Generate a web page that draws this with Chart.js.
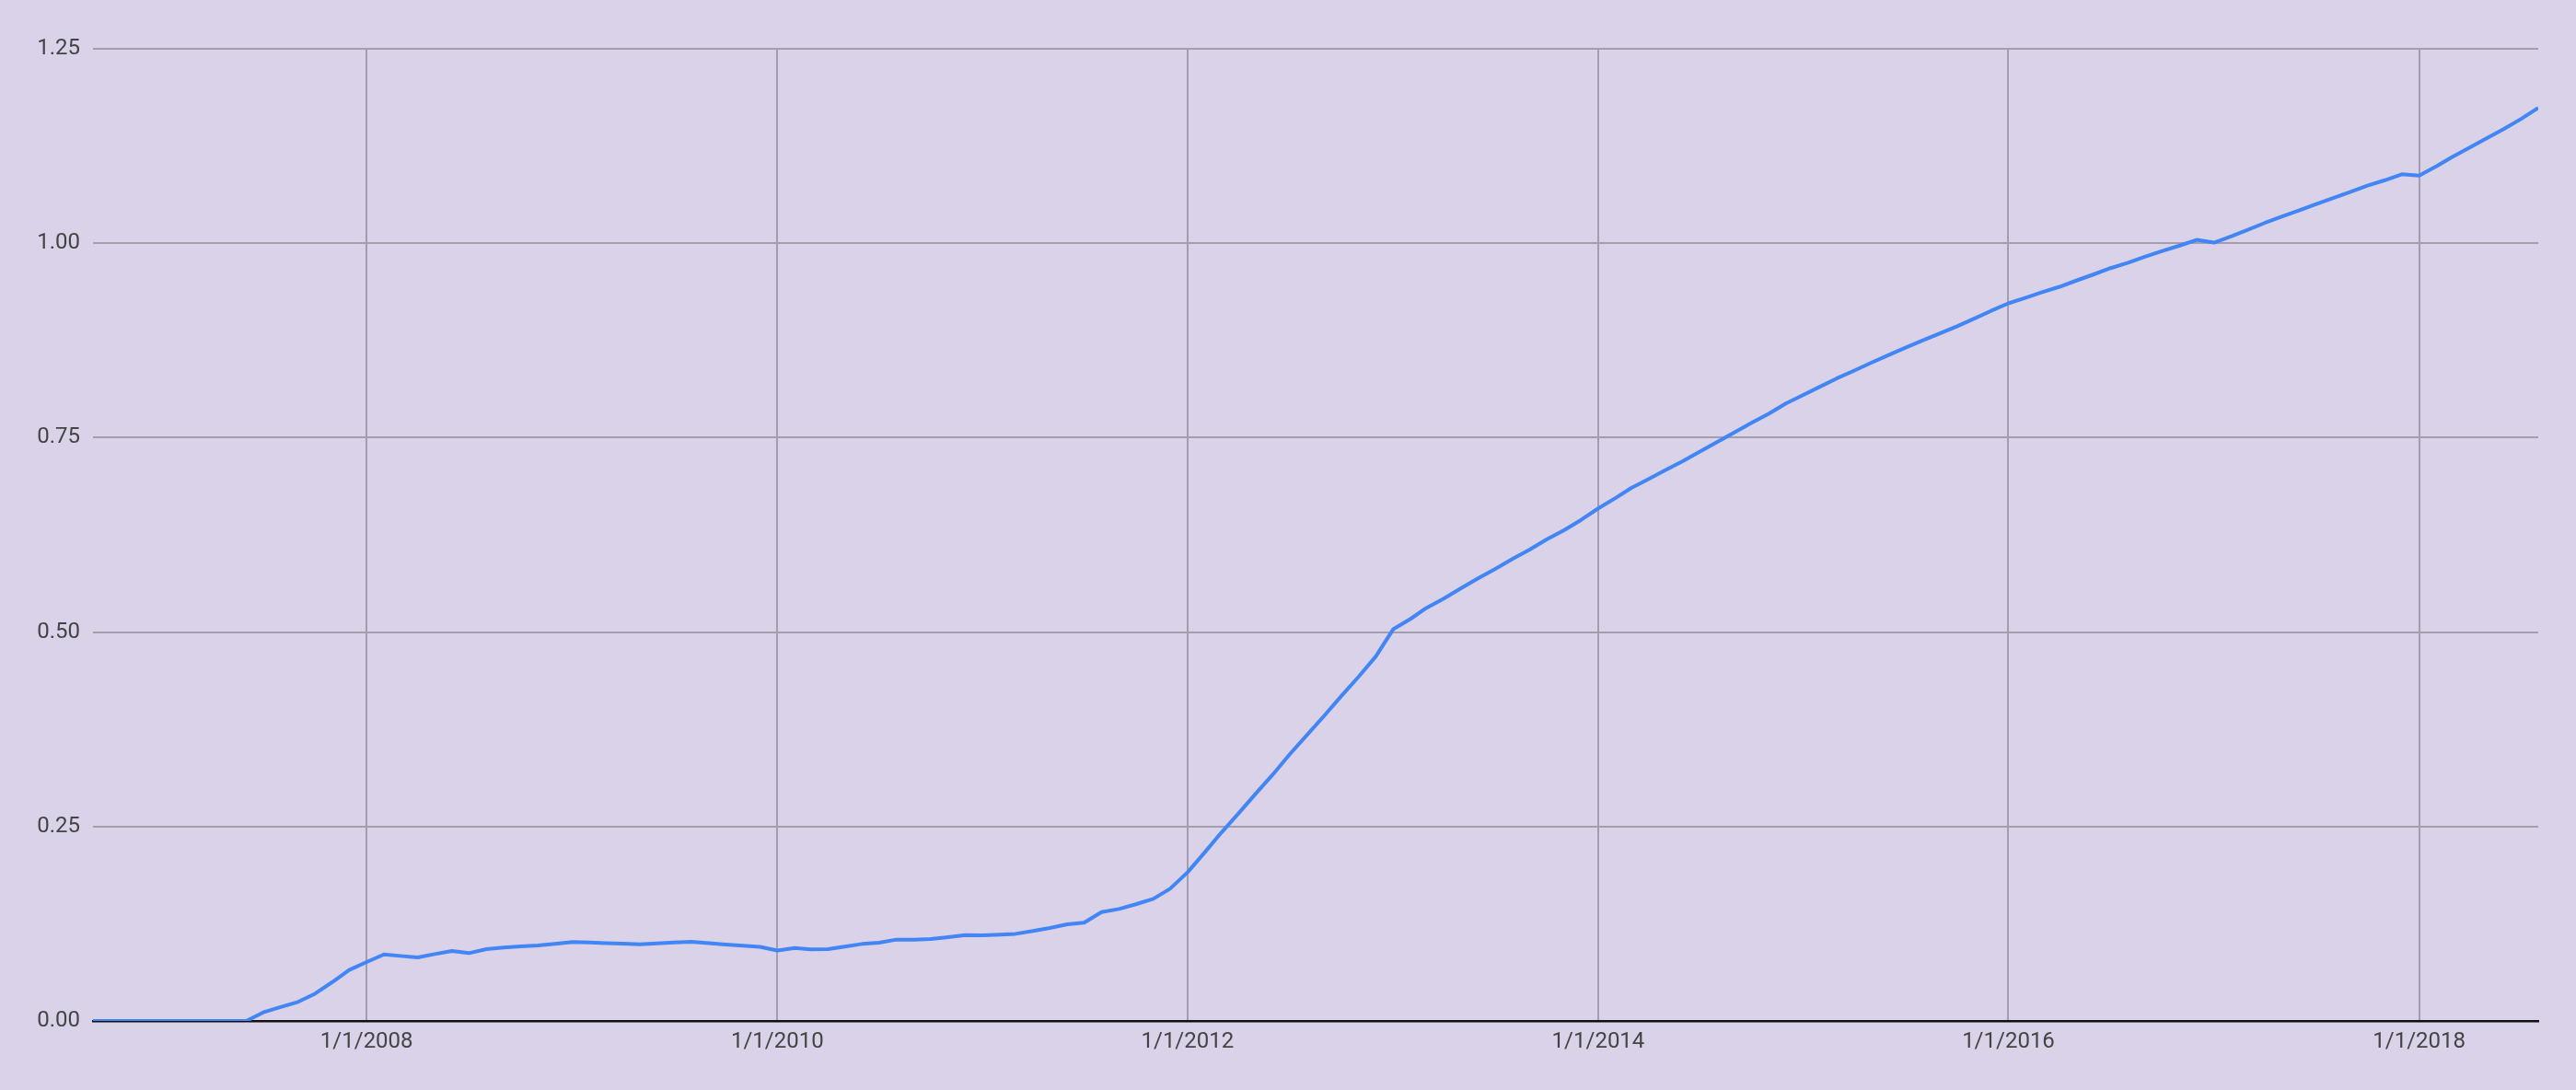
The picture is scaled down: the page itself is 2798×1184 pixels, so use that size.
<!DOCTYPE html>
<html>
<head>
<meta charset="utf-8">
<script src="https://cdn.jsdelivr.net/npm/chart.js@4/dist/chart.umd.min.js"></script>
<style>
  html, body { margin: 0; padding: 0; background: #d9d2e9; }
  #wrap { width: 2798px; height: 1184px; }
</style>
</head>
<body>
<div id="wrap"><canvas id="c" width="2798" height="1184"></canvas></div>
<script>
// ---- Data (monthly, first of month) ----
const months = [
  '2006-09','2006-10','2006-11','2006-12',
  '2007-01','2007-02','2007-03','2007-04','2007-05','2007-06','2007-07','2007-08','2007-09','2007-10','2007-11','2007-12',
  '2008-01','2008-02','2008-03','2008-04','2008-05','2008-06','2008-07','2008-08','2008-09','2008-10','2008-11','2008-12',
  '2009-01','2009-02','2009-03','2009-04','2009-05','2009-06','2009-07','2009-08','2009-09','2009-10','2009-11','2009-12',
  '2010-01','2010-02','2010-03','2010-04','2010-05','2010-06','2010-07','2010-08','2010-09','2010-10','2010-11','2010-12',
  '2011-01','2011-02','2011-03','2011-04','2011-05','2011-06','2011-07','2011-08','2011-09','2011-10','2011-11','2011-12',
  '2012-01','2012-02','2012-03','2012-04','2012-05','2012-06','2012-07','2012-08','2012-09','2012-10','2012-11','2012-12',
  '2013-01','2013-02','2013-03','2013-04','2013-05','2013-06','2013-07','2013-08','2013-09','2013-10','2013-11','2013-12',
  '2014-01','2014-02','2014-03','2014-04','2014-05','2014-06','2014-07','2014-08','2014-09','2014-10','2014-11','2014-12',
  '2015-01','2015-02','2015-03','2015-04','2015-05','2015-06','2015-07','2015-08','2015-09','2015-10','2015-11','2015-12',
  '2016-01','2016-02','2016-03','2016-04','2016-05','2016-06','2016-07','2016-08','2016-09','2016-10','2016-11','2016-12',
  '2017-01','2017-02','2017-03','2017-04','2017-05','2017-06','2017-07','2017-08','2017-09','2017-10','2017-11','2017-12',
  '2018-01','2018-02','2018-03','2018-04','2018-05','2018-06','2018-07','2018-08'
];
const values = [
  0, 0, 0, 0,
  0, 0, 0, 0, 0, 0, 0.011, 0.018, 0.0245, 0.035, 0.050, 0.0655,
  0.0757, 0.0855, 0.0836, 0.0817, 0.086, 0.090, 0.0872, 0.0923, 0.0943, 0.096, 0.097, 0.0990,
  0.1015, 0.1008, 0.1000, 0.0993, 0.0985, 0.0998, 0.1010, 0.1018, 0.1000, 0.0982, 0.0967, 0.0952,
  0.0905, 0.0939, 0.0919, 0.0923, 0.0955, 0.0990, 0.1006, 0.1046, 0.1046, 0.1053, 0.1077, 0.1105,
  0.1100, 0.1110, 0.1120, 0.1156, 0.1196, 0.1243, 0.1263, 0.1400, 0.1440, 0.1500, 0.1570, 0.1700,
  0.191, 0.217, 0.242, 0.267, 0.292, 0.317, 0.343, 0.368, 0.393, 0.418, 0.443, 0.4686,
  0.5036, 0.517, 0.531, 0.543, 0.556, 0.569, 0.581, 0.594, 0.606, 0.619, 0.631, 0.644,
  0.659, 0.6725, 0.6854, 0.697, 0.7085, 0.720, 0.732, 0.7446, 0.757, 0.769, 0.781, 0.794,
  0.805, 0.816, 0.826, 0.836, 0.846, 0.856, 0.8655, 0.875, 0.884, 0.893, 0.903, 0.913,
  0.9227, 0.930, 0.937, 0.944, 0.952, 0.960, 0.968, 0.975, 0.983, 0.990, 0.997, 1.0043,
  1.0008, 1.009, 1.017, 1.026, 1.034, 1.042, 1.050, 1.058, 1.066, 1.074, 1.081, 1.0886,
  1.087, 1.099, 1.111, 1.123, 1.135, 1.147, 1.1596, 1.174
];
const xTickDates = ['2008-01-01','2010-01-01','2012-01-01','2014-01-01','2016-01-01','2018-01-01'];
const xTickLabels = ['1/1/2008','1/1/2010','1/1/2012','1/1/2014','1/1/2016','1/1/2018'];
const yTicks = [0, 0.25, 0.5, 0.75, 1.0, 1.25];

// ---- Build ----
function toTime(s) {
  const p = s.split('-').map(Number);
  return Date.UTC(p[0], p[1] - 1, p[2] || 1);
}
const points = months.map((m, i) => ({ x: toTime(m), y: values[i] }));
const tickTimes = xTickDates.map(toTime);
const labelFor = {};
tickTimes.forEach((t, i) => { labelFor[t] = xTickLabels[i]; });

const bgPlugin = {
  id: 'bg',
  beforeDraw(chart) {
    const ctx = chart.ctx;
    ctx.save();
    ctx.fillStyle = '#d9d2e9';
    ctx.fillRect(0, 0, chart.width, chart.height);
    ctx.restore();
  }
};

const gridColor = '#a39eae';
const textColor = '#444444';

new Chart(document.getElementById('c'), {
  type: 'line',
  data: {
    datasets: [{
      data: points,
      borderColor: '#4285f4',
      borderWidth: 4,
      pointRadius: 0,
      tension: 0,
      fill: false,
      borderJoinStyle: 'round'
    }]
  },
  options: {
    responsive: false,
    animation: false,
    events: [],
    layout: { padding: { top: 53, right: 41, left: 0, bottom: 0 } },
    plugins: { legend: { display: false }, tooltip: { enabled: false } },
    scales: {
      x: {
        type: 'linear',
        min: points[0].x,
        max: points[points.length - 1].x,
        afterBuildTicks(scale) { scale.ticks = tickTimes.map(v => ({ value: v })); },
        afterFit(scale) { scale.height = 75; },
        ticks: {
          callback: (v) => labelFor[v] || '',
          color: textColor,
          font: { family: 'Roboto', size: 24 },
          padding: 9,
          maxRotation: 0,
          autoSkip: false
        },
        grid: { color: gridColor, lineWidth: 2, drawTicks: false },
        border: { display: true, color: '#111111', width: 2.5 }
      },
      y: {
        min: 0,
        max: 1.25,
        afterBuildTicks(scale) { scale.ticks = yTicks.map(v => ({ value: v })); },
        afterFit(scale) { scale.width = 101; },
        ticks: {
          callback: (v) => Number(v).toFixed(2),
          color: textColor,
          font: { family: 'Roboto', size: 24 },
          padding: 14
        },
        grid: { color: gridColor, lineWidth: 2, drawTicks: false },
        border: { display: false }
      }
    }
  },
  plugins: [bgPlugin]
});
</script>
</body>
</html>
